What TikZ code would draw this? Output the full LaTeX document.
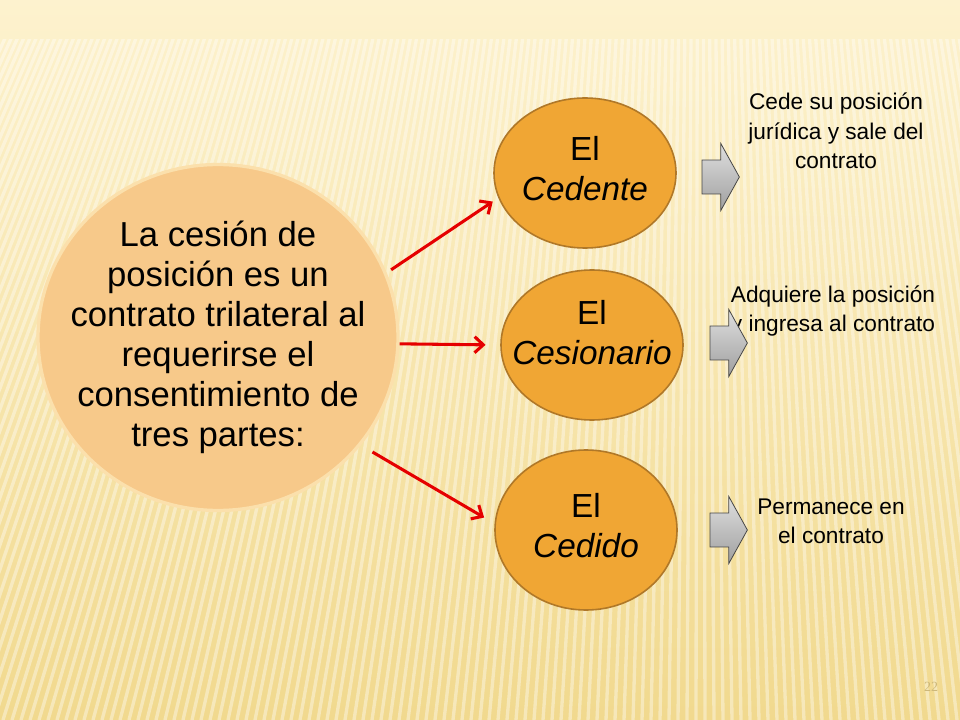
\documentclass[tikz,border=0pt]{standalone}
\usepackage{fontspec}
\setmainfont{Liberation Sans}
\newfontfamily\numfont{Liberation Serif}
\usetikzlibrary{shapes.geometric,shapes.arrows,arrows.meta}

\definecolor{fondoA}{RGB}{253,242,206}
\definecolor{fondoB}{RGB}{241,217,142}
\definecolor{durazno}{RGB}{247,201,138}
\definecolor{bordedurazno}{RGB}{251,224,172}
\definecolor{naranja}{RGB}{240,166,52}
\definecolor{bordenaranja}{RGB}{176,120,40}
\definecolor{numero}{RGB}{205,184,122}

\begin{document}
\begin{tikzpicture}[x=0.75pt,y=-0.75pt,
  parte/.style={ellipse,draw=bordenaranja,line width=1.2pt,fill=naranja,
    minimum width=136.5pt,minimum height=112.5pt,inner sep=0pt},
  rotulo/.style={align=center,font=\fontsize{25}{30}\selectfont},
  flecha/.style={single arrow,draw=gray!55!black,line width=0.6pt,
    top color=gray!25,bottom color=gray!75,inner xsep=0pt,inner ysep=12.4pt,
    minimum height=28pt,single arrow head extend=12.4pt,single arrow tip angle=122},
  nota/.style={align=center,font=\fontsize{17}{22}\selectfont},
  enlace/.style={->,red!90!black,line width=2.3pt},
  >={Straight Barb[length=6.5pt,width=12pt]}]
\useasboundingbox (0,0) rectangle (960,720);
% fondo
\shade[top color=fondoA,bottom color=fondoB] (0,0) rectangle (960,720);
\begin{scope}
  \clip (0,40) rectangle (960,720);
  \foreach \x in {-600,-591,...,1500}
    \draw[white,opacity=0.38,line width=2.5pt] (700,-1500) -- (\x,720);
\end{scope}

% circulo central
\node[ellipse,fill=durazno,draw=bordedurazno,line width=2.5pt,inner sep=0pt,
  minimum width=270pt,minimum height=259.5pt,
  label={[align=center,font=\fontsize{26}{30}\selectfont]center:La cesión de\\ posición es un\\contrato trilateral al\\requerirse el\\consentimiento de\\tres partes:}]
  (cesion) at (218,337.5) {};

% las tres partes
\node[parte,label={[rotulo,yshift=3pt]center:El\\\textit{Cedente}}] (cedente) at (585,173) {};
\node[parte,label={[rotulo,yshift=9pt]center:El\\\textit{Cesionario}}] (cesionario) at (592,345) {};
\node[parte,minimum height=120pt,label={[rotulo,yshift=3pt]center:El\\\textit{Cedido}}] (cedido) at (586,530) {};

\draw[enlace,shorten <=4pt,shorten >=5pt] (cesion.21) -- (cedente.196);
\draw[enlace,shorten >=11pt] (cesion.-2) -- (cesionario.west);
\draw[enlace,shorten <=10pt,shorten >=9pt] (cesion.-37) -- (cedido.176);

% notas
\node[nota] (n1) at (836,131) {Cede su posición\\jurídica y sale del\\contrato};
\node[nota] (n2) at (833,311) {Adquiere la posición\\y ingresa al contrato};
\node[nota] (n3) at (831,521) {Permanece en\\el contrato};

\node[flecha] (f1) at (716,177) {};
\node[flecha] (f2) at (724,343) {};
\node[flecha] (f3) at (724,530) {};

\node[text=numero,font=\numfont\fontsize{10.5}{12}\selectfont] (pag) at (931,687) {22};
\end{tikzpicture}
\end{document}
